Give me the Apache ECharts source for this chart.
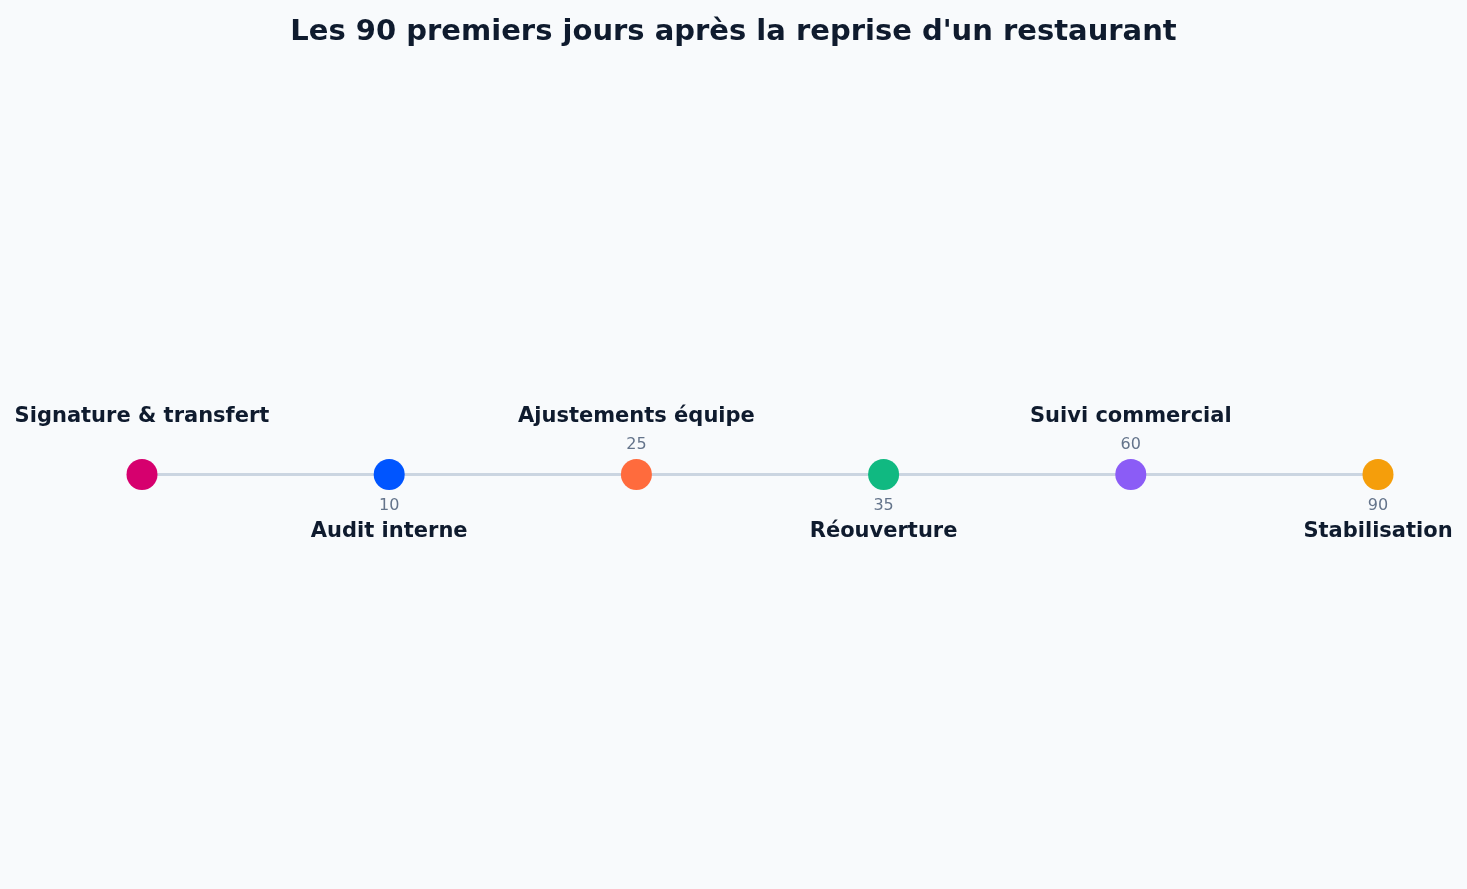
<!DOCTYPE html>
<html lang="fr">
<head>
    <meta charset="utf-8">
    <title>Les 90 premiers jours</title>
    <script type="text/javascript" src="https://cdn.jsdelivr.net/npm/echarts@6/dist/echarts.min.js"></script>
    <style>
        html, body { margin: 0; padding: 0; background: #f8fafc; }
        #main { width: 1467px; height: 889px; }
    </style>
</head>
<body>
<div id="main"></div>
<script type="text/javascript">
    // données de la frise
    var etapes = ['Signature & transfert', 'Audit interne', 'Ajustements équipe', 'Réouverture', 'Suivi commercial', 'Stabilisation'];
    var jours = [0, 10, 25, 35, 60, 90];
    var couleurs = ['#d6006e', '#0055ff', '#ff6b3d', '#10b981', '#8b5cf6', '#f59e0b'];

    var myChart = echarts.init(document.getElementById('main'));

    // les points pairs ont leurs textes au-dessus, les impairs en dessous
    var pointsData = etapes.map(function (e, i) {
        var haut = i % 2 === 0;
        return {
            value: 0,
            itemStyle: { color: couleurs[i] },
            label: { offset: [0, haut ? -30 : 31] }
        };
    });
    var nomsData = etapes.map(function (e, i) {
        var haut = i % 2 === 0;
        return {
            value: 0,
            label: { offset: [0, haut ? -58 : 57] }
        };
    });

    var option = {
        backgroundColor: '#f8fafc',
        animation: false,
        title: {
            text: "Les 90 premiers jours après la reprise d'un restaurant",
            left: 'center',
            top: 13,
            textStyle: {
                fontFamily: 'DejaVu Sans',
                fontSize: 29,
                fontWeight: 'bold',
                color: '#0f1b2e'
            }
        },
        grid: { left: 142, right: 89, top: 101, bottom: 41 },
        xAxis: {
            type: 'category',
            data: etapes,
            boundaryGap: false,
            show: false
        },
        yAxis: {
            type: 'value',
            min: -1,
            max: 1,
            show: false
        },
        series: [{
            name: 'jours',
            type: 'line',
            data: pointsData,
            symbol: 'circle',
            symbolSize: 31,
            lineStyle: { color: '#cbd5e1', width: 3 },
            label: {
                show: true,
                position: 'inside',
                fontFamily: 'DejaVu Sans',
                fontSize: 16,
                color: '#64748b',
                formatter: function (p) {
                    var j = jours[p.dataIndex];
                    return j ? String(j) : '';
                }
            },
            z: 3
        }, {
            name: 'etapes',
            type: 'scatter',
            data: nomsData,
            symbolSize: 0,
            silent: true,
            itemStyle: { opacity: 1 },
            label: {
                show: true,
                position: 'inside',
                fontFamily: 'DejaVu Sans',
                fontSize: 21,
                fontWeight: 'bold',
                color: '#0f1b2e',
                formatter: function (p) {
                    return etapes[p.dataIndex];
                }
            },
            z: 4
        }]
    };

    myChart.setOption(option);
</script>
</body>
</html>
